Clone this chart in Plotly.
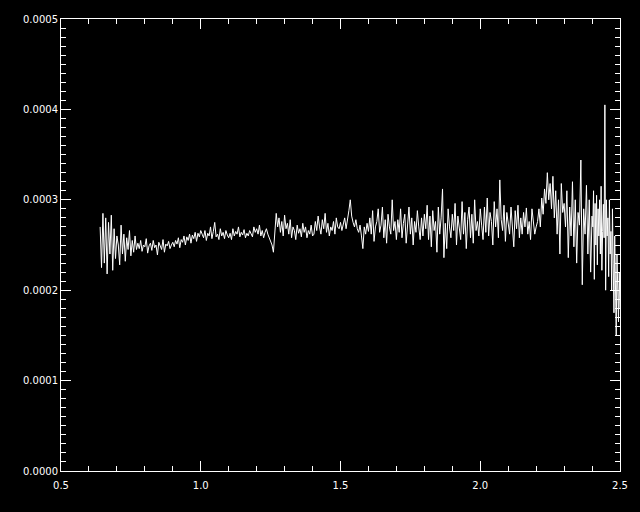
import numpy as np
import plotly.graph_objects as go

# Flux values, in units of 1e-6
flux_main_u = [
    # 0.640-0.700
    270, 225, 285, 230, 280, 218, 275, 240, 283, 222, 268, 235, 260,
    # 0.705-0.770
    250, 228, 272, 240, 262, 232, 258, 245, 266, 238, 255, 242, 260, 245,
    # 0.775-0.900
    252, 246, 255, 243, 250, 248, 257, 241, 249, 252, 244, 255, 247, 250, 239, 253,
    248, 245, 256, 242, 251, 249, 254, 246, 250, 253,
    # 0.905-1.000
    248, 255, 251, 258, 247, 256, 253, 260, 250, 259, 255, 262, 252, 261, 257, 264,
    254, 263, 259, 266,
    # 1.005-1.270
    262, 258, 266, 255, 263, 260, 270, 257, 265, 275, 259, 262, 256, 268, 260, 264,
    257, 266, 261, 258,
    263, 256, 268, 260, 265, 262, 270, 259, 264, 261, 267, 258, 263, 260, 266, 262,
    259, 270, 264, 268,
    262, 272, 260, 266, 258, 264, 268, 262, 258, 256, 250, 242, 262, 285,
    # 1.275-1.400
    270, 280, 264, 276, 260, 283, 268, 274, 262, 278, 258, 270, 266, 256, 272, 263,
    268, 259, 274, 264, 270, 258, 266, 262, 272, 260,
    # 1.405-1.500
    262, 276, 266, 282, 270, 262, 278, 268, 285, 264, 274, 260, 270, 266, 276, 262,
    280, 270, 268, 275,
    # 1.505-1.600
    266, 272, 280, 268, 276, 288, 300, 282, 275, 270, 278, 268, 264, 272, 260, 246,
    270, 262, 274, 265,
    # 1.605-1.700
    280, 262, 288, 254, 270, 276, 290, 264, 272, 292, 258, 278, 252, 284, 270, 262,
    300, 266, 276, 256,
    # 1.705-1.800
    278, 264, 290, 258, 274, 284, 252, 270, 292, 262, 280, 250, 276, 264, 288, 270,
    256, 280, 260, 284,
    # 1.805-1.900
    268, 294, 256, 282, 248, 288, 266, 276, 242, 292, 262, 280, 312, 236, 274, 246,
    290, 270, 258, 284,
    # 1.905-2.000
    266, 296, 250, 282, 270, 256, 298, 262, 286, 246, 278, 292, 258, 284, 252, 300,
    266, 276, 260, 290,
    # 2.005-2.100
    272, 256, 292, 264, 302, 260, 286, 276, 250, 298, 270, 290, 258, 322, 278, 266,
    294, 254, 286, 270,
    # 2.105-2.200
    262, 292, 274, 248, 288, 268, 294, 258, 280, 262, 286, 270, 291, 262, 276, 256,
    290, 276, 262, 270,
    # 2.205-2.300
    276, 290, 270, 302, 284, 312, 296, 330, 300, 318, 290, 326, 280, 310, 262, 300,
    240, 318, 286, 296,
    # 2.305-2.400
    270, 310, 236, 292, 260, 320, 248, 300, 230, 286, 272, 344, 206, 290, 262, 316,
    240, 300, 220, 282,
]

flux_tail_u = [
    270, 310, 212, 296, 250, 305, 228, 290, 260, 300, 240, 315, 222, 265, 295, 258,
    405, 200, 300, 260, 280, 215, 300, 240, 265, 200, 290, 230, 175, 260, 210, 150,
    240, 190, 165, 220, 180,
]

wl_main = np.linspace(0.64, 2.40, len(flux_main_u))
wl_tail = np.linspace(2.4027, 2.50, len(flux_tail_u))

wavelength = np.concatenate([wl_main, wl_tail])
flux = np.array(flux_main_u + flux_tail_u) * 1e-6

x_range = [0.5, 2.5]
y_range = [0.0, 0.0005]
x_ticks = [0.5, 1.0, 1.5, 2.0, 2.5]
y_ticks = [0.0, 0.0001, 0.0002, 0.0003, 0.0004, 0.0005]

fig = go.Figure()
fig.add_trace(go.Scatter(
    x=wavelength, y=flux, mode="lines",
    line=dict(color="white", width=1),
    showlegend=False, hoverinfo="skip",
))
# invisible trace to anchor the mirrored (top/right) tick axes
fig.add_trace(go.Scatter(
    x=x_range, y=y_range, xaxis="x2", yaxis="y2", mode="markers",
    marker=dict(opacity=0), showlegend=False, hoverinfo="skip",
))

axis_common = dict(
    showline=True, linecolor="white", linewidth=1,
    ticks="inside", ticklen=10, tickwidth=1, tickcolor="white",
    showgrid=False, zeroline=False,
    tickfont=dict(family="DejaVu Sans", size=10, color="white"),
)
x_minor = dict(ticks="inside", dtick=0.1, ticklen=5, tickcolor="white", showgrid=False)
y_minor = dict(ticks="inside", dtick=0.00001, ticklen=5, tickcolor="white", showgrid=False)

fig.update_layout(
    width=640, height=512,
    paper_bgcolor="black", plot_bgcolor="black",
    margin=dict(l=61, r=18, t=19, b=41),
    xaxis=dict(range=x_range, tickvals=x_ticks, ticktext=[f"{v:.1f}" for v in x_ticks],
               minor=x_minor, ticklabelstandoff=5, **axis_common),
    yaxis=dict(range=y_range, tickvals=y_ticks, ticktext=[f"{v:.4f}" for v in y_ticks],
               minor=y_minor, **axis_common),
    xaxis2=dict(range=x_range, tickvals=x_ticks, showticklabels=False, side="top",
                overlaying="x", anchor="y2", minor=x_minor, **axis_common),
    yaxis2=dict(range=y_range, tickvals=y_ticks, showticklabels=False, side="right",
                overlaying="y", anchor="x2", minor=y_minor, **axis_common),
)

fig.write_html(
    "out.html",
    config={"displayModeBar": False},
    post_script="document.body.style.margin='0';document.body.style.padding='0';"
                "document.body.style.background='black';",
)
